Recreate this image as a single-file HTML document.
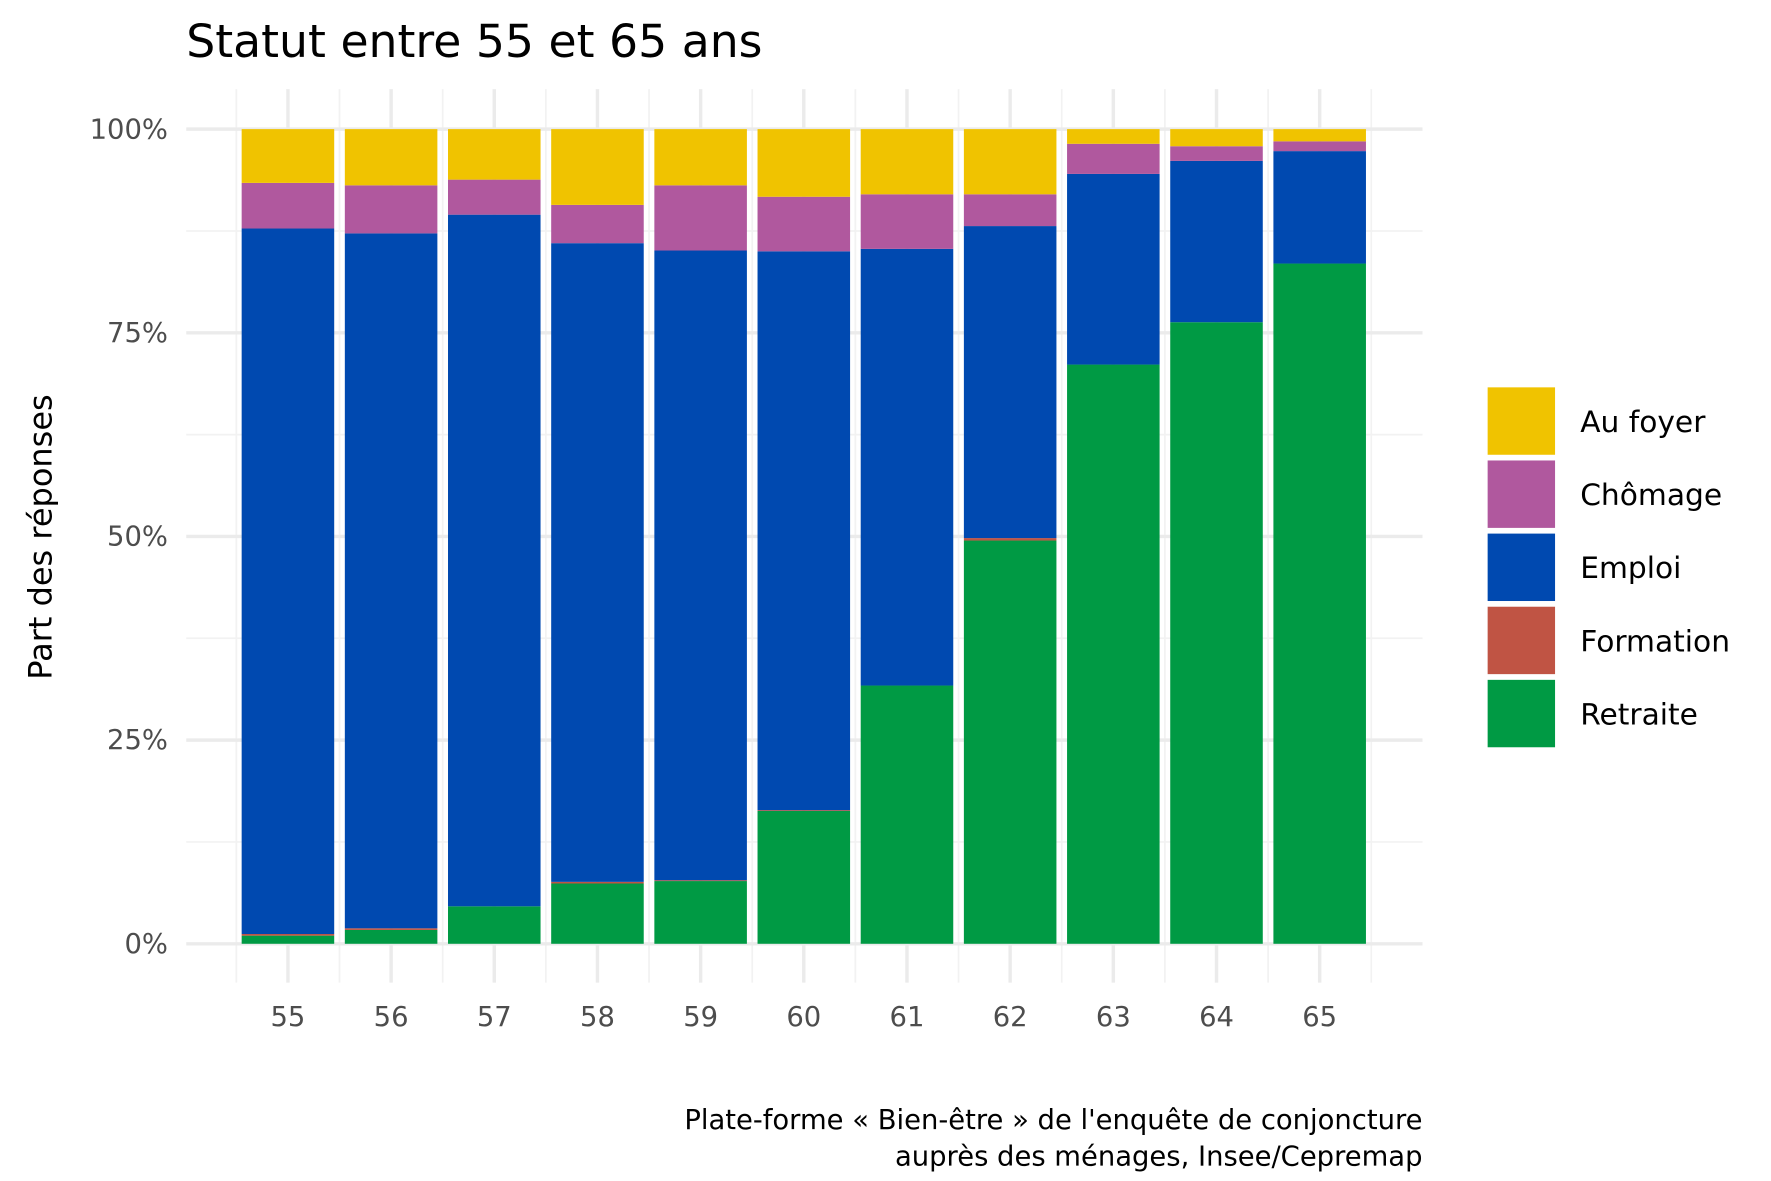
<!DOCTYPE html>
<html><head><meta charset="utf-8"><style>html,body{margin:0;padding:0;background:#fff}svg{display:block}</style></head>
<body>
<svg id="chart" width="1771" height="1181" viewBox="0 0 1550 1033.6" xmlns="http://www.w3.org/2000/svg" font-family="DejaVu Sans, Liberation Sans, sans-serif">
<text x="163" y="50" font-size="40" fill="#000">Statut entre 55 et 65 ans</text>
<g id="grid"></g>
<g id="bars"></g>
<g id="axes"></g>
<text transform="translate(45,470) rotate(-90)" text-anchor="middle" font-size="28" fill="#000">Part des réponses</text>
<g id="legend"></g>
<text x="1245" y="988" text-anchor="end" font-size="24" fill="#000">Plate-forme « Bien-être » de l'enquête de conjoncture</text>
<text x="1245" y="1020" text-anchor="end" font-size="24" fill="#000">auprès des ménages, Insee/Cepremap</text>
</svg>
<script>
const categories = ["55","56","57","58","59","60","61","62","63","64","65"];
const retraite  = [1.0, 1.7, 4.6, 7.4, 7.7, 16.3, 31.7, 49.5, 71.1, 76.3, 83.5];
const formation = [0.2, 0.2, 0.0, 0.2, 0.1, 0.1, 0.0, 0.3, 0.0, 0.0, 0.0];
const emploi    = [86.6, 85.3, 84.9, 78.4, 77.3, 68.6, 53.6, 38.3, 23.4, 19.8, 13.8];
const chomage   = [5.6, 5.9, 4.3, 4.7, 8.0, 6.7, 6.7, 3.9, 3.7, 1.8, 1.2];
const foyer     = [6.6, 6.9, 6.2, 9.3, 6.9, 8.3, 8.0, 8.0, 1.8, 2.1, 1.5];
const yTicks = [0, 25, 50, 75, 100];
const yTickLabels = ["0%", "25%", "50%", "75%", "100%"];
const seriesNames = ["Au foyer","Chômage","Emploi","Formation","Retraite"];
const seriesColors = ["#f0c300","#b0589e","#0049b0","#c05444","#009a44"];

const NS = "http://www.w3.org/2000/svg";
const x0 = 252, step = 90.3, bw = 81;
const yScale = v => 826 - v * 7.13;
const xScale = i => x0 + i * step;
function mk(tag, attrs, parent){const e=document.createElementNS(NS,tag);for(const k in attrs)e.setAttribute(k,attrs[k]);parent.appendChild(e);return e;}
const grid = document.getElementById('grid'), bars = document.getElementById('bars'), axes = document.getElementById('axes'), legend = document.getElementById('legend');

for (let v = 12.5; v < 100; v += 25) {
  const l = mk('line',{x1:163,x2:1245,y1:yScale(v),y2:yScale(v),stroke:'#f2f2f2','stroke-width':1.5},grid);
  
  
}
for (let i = 0; i <= categories.length; i++) {
  const x = xScale(i) - step/2;
  const l = mk('line',{x1:x,x2:x,y1:78,y2:860,stroke:'#f2f2f2','stroke-width':1.5},grid);
  
  
}
yTicks.forEach((v,i)=>{
  const l = mk('line',{x1:163,x2:1245,y1:yScale(v),y2:yScale(v),stroke:'#ebebeb','stroke-width':3},grid);
  
  
  const t = mk('text',{x:147,y:yScale(v)+8,'text-anchor':'end','font-size':24,fill:'#4d4d4d'},axes);
  t.textContent = yTickLabels[i];
  
  
});
categories.forEach((c,i)=>{
  const x = xScale(i);
  const l = mk('line',{x1:x,x2:x,y1:78,y2:860,stroke:'#ebebeb','stroke-width':3},grid);
  
  
  const t = mk('text',{x:x,y:898,'text-anchor':'middle','font-size':24,fill:'#4d4d4d'},axes);
  t.textContent = c;
  
  
  // stack bottom to top: retraite, formation, emploi, chomage, foyer
  const stack = [[retraite,4],[formation,3],[emploi,2],[chomage,1],[foyer,0]];
  let cum = 0;
  stack.forEach(([arr,ci])=>{
    const v = arr[i];
    if (v <= 0) return;
    const r = mk('rect',{x:x-bw/2,y:yScale(cum+v),width:bw,height:yScale(cum)-yScale(cum+v),fill:seriesColors[ci]},bars);
    
    
    cum += v;
  });
});
seriesNames.forEach((n,i)=>{
  const y = 339 + i*64;
  const r = mk('rect',{x:1302,y:y,width:59,height:59,fill:seriesColors[i]},legend);
  
  
  const t = mk('text',{x:1383,y:y+39,'font-size':26,fill:'#000'},legend);
  t.textContent = n;
  
  
});
</script>
</body></html>
